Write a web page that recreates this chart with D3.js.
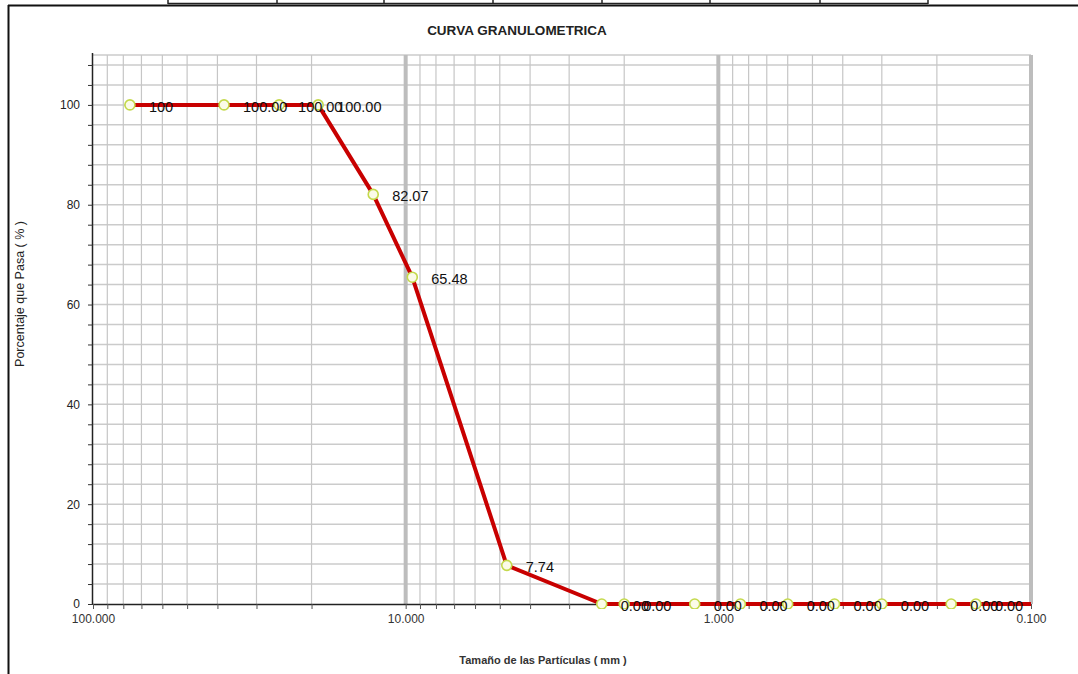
<!DOCTYPE html>
<html>
<head>
<meta charset="utf-8">
<script src="https://cdn.jsdelivr.net/npm/d3@7"></script>
<style>
  body { margin: 0; background: #fff; }
  svg { display: block; font-family: "Liberation Sans", Arial, sans-serif; }
</style>
</head>
<body>
<svg id="chart" width="1078" height="674"></svg>
<script>
// sieve openings (mm) and percent passing
const sieveSizes = [76.2, 38.1, 25.4, 19.05, 12.7, 9.525, 4.75, 2.36, 2.0, 1.19, 0.85, 0.6, 0.425, 0.3, 0.18, 0.15, 0.075];
const percentPassing = [100, 100, 100, 100, 82.07, 65.48, 7.74, 0, 0, 0, 0, 0, 0, 0, 0, 0, 0];
const pointLabels = ["100", "100.00", "100.00", "100.00", "82.07", "65.48", "7.74", "0.00", "0.00", "0.00", "0.00", "0.00", "0.00", "0.00", "0.00", "0.00", "0.00"];
const decadeTicks = [100, 10, 1, 0.1];
const yMajorTicks = [0, 20, 40, 60, 80, 100];

const points = sieveSizes.map((s, i) => ({ size: s, pass: percentPassing[i], label: pointLabels[i] }));

const svg = d3.select("#chart");
const plotLeft = 93, plotRight = 1031, plotTop = 55, plotBottom = 604;

const x = d3.scaleLog().domain([100, 0.1]).range([plotLeft, plotRight]);
const y = d3.scaleLinear().domain([0, 110]).range([plotBottom, plotTop]);

// outer frame + table stub at the top
svg.append("line").attr("x1", 8).attr("x2", 1078).attr("y1", 5.5).attr("y2", 5.5)
    .attr("stroke", "#111").attr("stroke-width", 2);
svg.append("line").attr("x1", 8.5).attr("x2", 8.5).attr("y1", 5).attr("y2", 674)
    .attr("stroke", "#111").attr("stroke-width", 2);
const tableCols = [168, 277, 384, 493, 602, 710, 820, 928];
svg.append("line").attr("x1", 168).attr("x2", 928).attr("y1", 3.5).attr("y2", 3.5)
    .attr("stroke", "#222").attr("stroke-width", 1.5);
tableCols.forEach(c => {
    svg.append("line").attr("x1", c).attr("x2", c).attr("y1", 0).attr("y2", 4)
        .attr("stroke", "#222").attr("stroke-width", 1.5);
});

// title
svg.append("text")
    .attr("x", 517).attr("y", 35)
    .attr("text-anchor", "middle")
    .attr("font-size", "13.5px").attr("font-weight", "bold")
    .attr("fill", "#222")
    .text("CURVA GRANULOMETRICA");

// log grid values
const minorVals = [];
[10, 1, 0.1].forEach(d => {
    for (let k = 9; k >= 2; k--) minorVals.push(d * k);
});
const allXTicks = [100].concat(...[10, 1, 0.1].map(d => d3.range(9, 1, -1).map(k => d * k).concat([d])));

const grid = svg.append("g");
// horizontal grid every 4 %
d3.range(4, 110, 4).concat([110]).forEach(v => {
    grid.append("line")
        .attr("x1", plotLeft).attr("x2", plotRight)
        .attr("y1", y(v)).attr("y2", y(v))
        .attr("stroke", "#cbcbcb").attr("stroke-width", 1.5);
});
minorVals.forEach(v => {
    grid.append("line")
        .attr("x1", x(v)).attr("x2", x(v))
        .attr("y1", plotTop).attr("y2", plotBottom)
        .attr("stroke", "#c6c6c6").attr("stroke-width", 1.2);
});
[10, 1, 0.1].forEach(v => {
    grid.append("line")
        .attr("x1", x(v)).attr("x2", x(v))
        .attr("y1", plotTop).attr("y2", plotBottom)
        .attr("stroke", "#bdbdbd").attr("stroke-width", 4);
});

// axes
const yAxis = d3.axisLeft(y)
    .tickValues(d3.range(0, 110, 4))
    .tickSize(5)
    .tickPadding(8)
    .tickFormat(d => yMajorTicks.includes(d) ? d : "");
const gy = svg.append("g").attr("transform", `translate(${plotLeft},0)`).call(yAxis);
gy.select(".domain").attr("d", `M-0.5,${plotBottom}V${plotTop - 2}`).attr("stroke", "#222").attr("stroke-width", 1.5);
gy.selectAll(".tick line").attr("stroke", "#333");
gy.selectAll(".tick text").attr("font-size", "12px").attr("fill", "#222").attr("font-family", "Liberation Sans, Arial");

const xAxis = d3.axisBottom(x)
    .tickValues(allXTicks)
    .tickSize(5)
    .tickPadding(5)
    .tickFormat(d => decadeTicks.includes(d) ? d3.format(".3f")(d) : "");
const gx = svg.append("g").attr("transform", `translate(0,${plotBottom})`).call(xAxis);
gx.select(".domain").attr("d", `M${plotLeft},0.5H${plotRight}`).attr("stroke", "#222").attr("stroke-width", 1.5);
gx.selectAll(".tick line").attr("stroke", "#555");
gx.selectAll(".tick text").attr("font-size", "12px").attr("fill", "#333").attr("font-family", "Liberation Sans, Arial");

// axis titles
svg.append("text")
    .attr("transform", "translate(24,294) rotate(-90)")
    .attr("text-anchor", "middle")
    .attr("font-size", "12.5px").attr("fill", "#222")
    .text("Porcentaje que Pasa ( % )");
svg.append("text")
    .attr("x", 543).attr("y", 664)
    .attr("text-anchor", "middle")
    .attr("font-size", "11px").attr("font-weight", "bold").attr("fill", "#333")
    .text("Tamaño de las Partículas ( mm )");

// clip line and markers to plot area
svg.append("clipPath").attr("id", "plot-clip")
    .append("rect").attr("x", plotLeft).attr("y", plotTop - 5)
    .attr("width", plotRight - plotLeft).attr("height", plotBottom - plotTop + 10);

const plot = svg.append("g").attr("clip-path", "url(#plot-clip)");

const line = d3.line().x(d => x(d.size)).y(d => y(d.pass));
plot.append("path")
    .datum(points)
    .attr("d", line)
    .attr("fill", "none")
    .attr("stroke", "#c80000")
    .attr("stroke-width", 4)
    .attr("stroke-linejoin", "round");

plot.selectAll("circle.pt")
    .data(points)
    .join("circle")
    .attr("class", "pt")
    .attr("cx", d => x(d.size))
    .attr("cy", d => y(d.pass))
    .attr("r", 5)
    .attr("fill", "#fbfbe8")
    .attr("stroke", "#c4d94c")
    .attr("stroke-width", 1.6);

// data labels only for points inside the x range
svg.append("g").selectAll("text.lbl")
    .data(points.filter(d => d.size >= 0.1))
    .join("text")
    .attr("class", "lbl")
    .attr("x", d => x(d.size) + 19)
    .attr("y", d => y(d.pass) + 7)
    .attr("font-size", "14.5px")
    .attr("fill", "#111")
    .text(d => d.label);
</script>
</body>
</html>
